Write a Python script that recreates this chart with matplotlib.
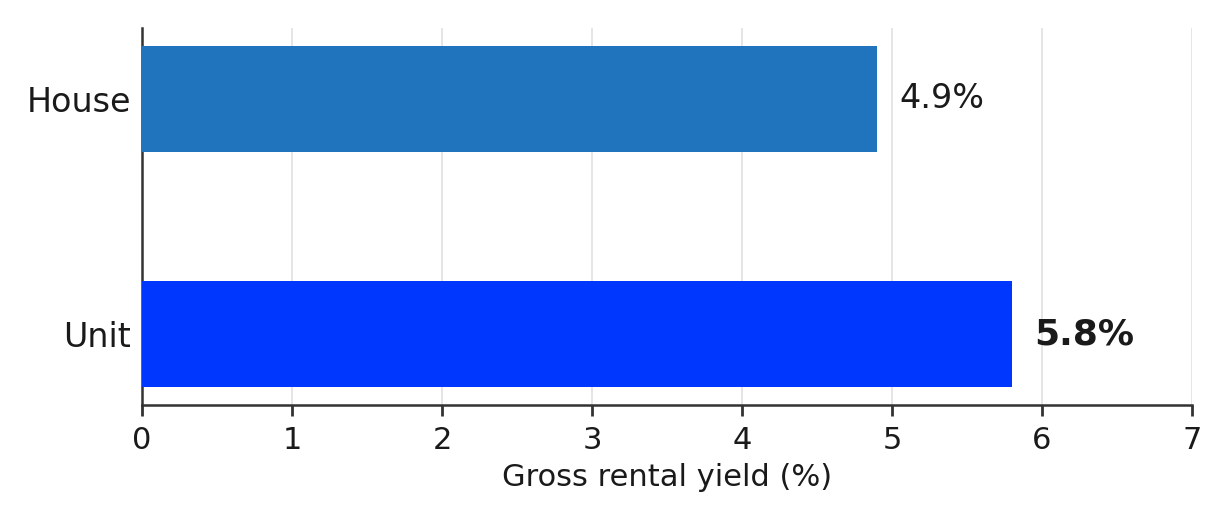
import matplotlib
matplotlib.use("Agg")
from matplotlib import pyplot as plt

categories = ["Unit", "House"]
yields = [5.8, 4.9]
bar_colors = ["#0037FF", "#1F74BD"]
value_labels = ["5.8%", "4.9%"]
x_ticks = [0, 1, 2, 3, 4, 5, 6, 7]

plt.rcParams["font.family"] = ["DejaVu Sans"]
text_color = "#1a1a1a"
spine_color = "#333333"

fig = plt.figure(figsize=(6.145, 2.6), dpi=200)
ax = fig.add_axes((142 / 1229, 1 - 405 / 520, 1050 / 1229, 377 / 520))

positions = list(range(len(categories)))
ax.barh(positions, yields, height=0.45, color=bar_colors, zorder=3)

for pos, val, lab in zip(positions, yields, value_labels):
    bold = lab == "5.8%"
    ax.text(val + 0.15, pos, lab, va="center", ha="left",
            fontsize=13 if bold else 12,
            fontweight="bold" if bold else "normal", color=text_color)

ax.set_xlim(0, 7)
ax.set_ylim(-0.3, 1.3)
ax.set_xticks(x_ticks)
ax.set_yticks(positions)
ax.set_yticklabels(categories, fontsize=12, color=text_color)
ax.tick_params(axis="x", labelsize=11, colors=spine_color, labelcolor=text_color,
               length=4, width=1)
ax.tick_params(axis="y", length=0, pad=4)
ax.set_xlabel("Gross rental yield (%)", fontsize=11, color=text_color, labelpad=3)

ax.grid(axis="x", color="#e0e0e0", linewidth=0.6, zorder=0)
for side in ["top", "right"]:
    ax.spines[side].set_visible(False)
for side in ["left", "bottom"]:
    ax.spines[side].set_color(spine_color)
    ax.spines[side].set_linewidth(0.9)

fig.savefig("out.png", dpi=200)
